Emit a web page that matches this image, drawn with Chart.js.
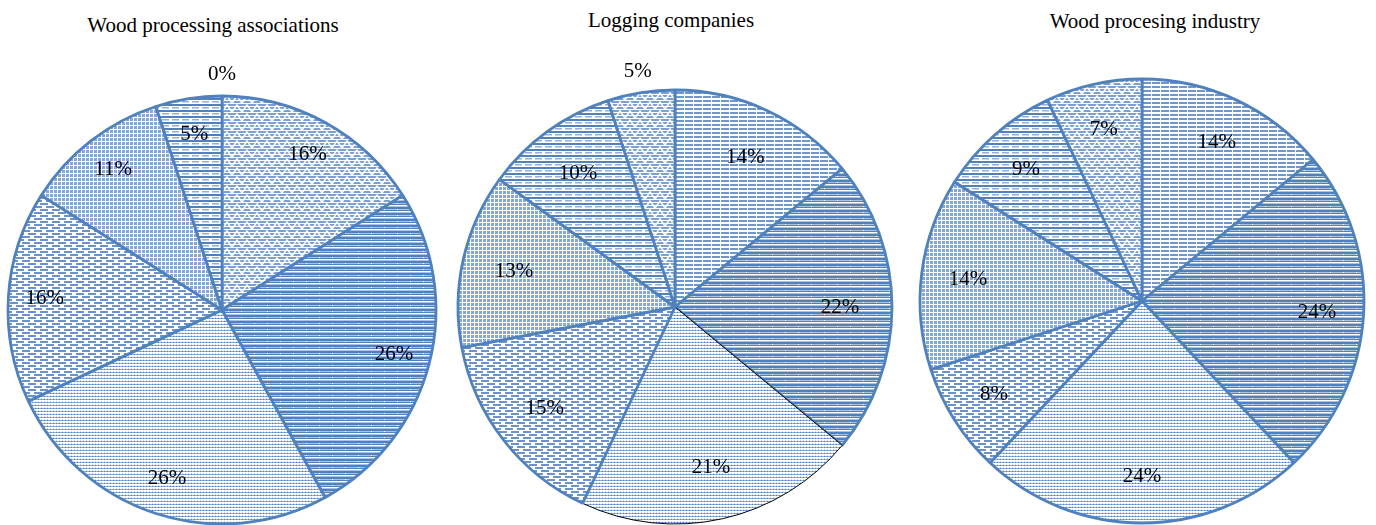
<!DOCTYPE html>
<html>
<head>
<meta charset="utf-8">
<script src="https://cdn.jsdelivr.net/npm/chart.js@4"></script>
<style>
  body { margin: 0; width: 1376px; height: 525px; overflow: hidden; background: #fff; position: relative; }
  .title { position: absolute; font: 21px "Liberation Serif", "Times New Roman", serif; line-height: 21px; color: #000; white-space: nowrap; transform: translateX(-50%); }
  .pie { position: absolute; width: 520px; height: 520px; }
</style>
</head>
<body>
<div class="title" style="left:213px; top:15px">Wood processing associations</div>
<div class="title" style="left:671px; top:10px">Logging companies</div>
<div class="title" style="left:1155px; top:11px">Wood procesing industry</div>
<div class="pie" style="left:-38px; top:50px"><canvas id="assoc" width="520" height="520"></canvas></div>
<div class="pie" style="left:415px; top:47px"><canvas id="logging" width="520" height="520"></canvas></div>
<div class="pie" style="left:882px; top:41px"><canvas id="industry" width="520" height="520"></canvas></div>
<script>
// shares in %, clockwise from 12 o'clock
const slices = ['s1', 's2', 's3', 's4', 's5', 's6', 's7']
const assocShares = [0, 16, 26, 26, 16, 11, 5]
const loggingShares = [14, 22, 21, 15, 13, 10, 5]
const industryShares = [14, 24, 24, 8, 14, 9, 7]

const blue = '#4f81bd'

function tile(w, h, draw) {
    const c = document.createElement('canvas')
    c.width = w
    c.height = h
    const g = c.getContext('2d')
    g.fillStyle = '#fff'
    g.fillRect(0, 0, w, h)
    draw(g)
    return g.createPattern(c, 'repeat')
}

const patterns = {
    gridLight: tile(9, 4, g => {
        g.fillStyle = '#6f97cc'
        g.fillRect(0, 1, 8, 2)
    }),
    brick: tile(13, 6, g => {
        g.fillStyle = '#a9c1e2'
        g.fillRect(0, 0, 13, 6)
        g.fillStyle = blue
        g.fillRect(0, 1, 13, 2)
        g.fillRect(0, 4, 13, 1)
        g.fillStyle = '#fff'
        g.fillRect(6, 3, 1, 1)
        g.fillRect(0, 5, 13, 1)
    }),
    dots: tile(3, 3, g => {
        g.fillStyle = '#8fb0dc'
        g.fillRect(0, 1, 3, 1)
        g.fillStyle = blue
        g.fillRect(1, 1, 1, 1)
        g.fillStyle = '#c9d8ee'
        g.fillRect(1, 0, 1, 1)
    }),
    dashed: tile(12, 6, g => {
        g.fillStyle = '#6b93c9'
        g.fillRect(0, 0, 8, 2)
        g.fillRect(6, 3, 6, 2)
        g.fillRect(0, 3, 2, 2)
    }),
    grid: tile(4, 4, g => {
        g.fillStyle = '#86a8d6'
        g.fillRect(0, 0, 3, 3)
    }),
    wide: tile(10, 6, g => {
        g.fillStyle = blue
        g.fillRect(0, 0, 10, 2)
        g.fillStyle = '#8fb0dc'
        g.fillRect(0, 3, 7, 1.5)
    }),
    zigzag: tile(10, 9, g => {
        g.fillStyle = '#7a9fd0'
        g.fillRect(0, 0, 10, 2)
        g.fillRect(0, 3, 10, 2)
        g.fillRect(0, 6, 10, 2)
        g.strokeStyle = '#fff'
        g.lineWidth = 1.5
        g.beginPath()
        g.moveTo(0, 8)
        g.lineTo(5, 1)
        g.lineTo(10, 8)
        g.stroke()
    })
}

const pctLabels = {
    id: 'pctLabels',
    afterDatasetsDraw(chart, args, opts) {
        const ctx = chart.ctx
        const vals = chart.data.datasets[0].data
        ctx.save()
        ctx.font = '21px "Liberation Serif", "Times New Roman", serif'
        ctx.fillStyle = '#000'
        ctx.textAlign = 'center'
        ctx.textBaseline = 'middle'
        chart.getDatasetMeta(0).data.forEach((arc, i) => {
            const p = arc.getProps(['x', 'y', 'startAngle', 'endAngle', 'outerRadius'], true)
            const mid = (p.startAngle + p.endAngle) / 2
            const f = opts.outside.includes(i) ? 1.1 : opts.factor
            ctx.fillText(vals[i] + '%', p.x + Math.cos(mid) * p.outerRadius * f, p.y + Math.sin(mid) * p.outerRadius * f)
        })
        ctx.restore()
    }
}

function makePie(id, shares, fills, radius, factor, outside, borders) {
    new Chart(document.getElementById(id), {
        type: 'pie',
        data: {
            labels: slices,
            datasets: [{
                data: shares,
                backgroundColor: fills.map(n => patterns[n]),
                borderColor: borders ? borders.map(b => b ? '#000' : blue) : blue,
                borderWidth: borders ? borders.map(b => b ? 1 : 2.8) : 2.8,
                radius: radius
            }]
        },
        options: {
            responsive: false,
            animation: false,
            events: [],
            plugins: {
                legend: { display: false },
                tooltip: { enabled: false },
                pctLabels: { factor: factor, outside: outside }
            }
        },
        plugins: [pctLabels]
    })
}

makePie('assoc', assocShares,
    ['gridLight', 'zigzag', 'brick', 'dots', 'dashed', 'grid', 'wide'], 214, 0.83, [0])
makePie('logging', loggingShares,
    ['gridLight', 'brick', 'dots', 'dashed', 'grid', 'wide', 'zigzag'], 217, 0.76, [6],
    [false, false, true, false, false, false, false])
makePie('industry', industryShares,
    ['gridLight', 'brick', 'dots', 'dashed', 'grid', 'wide', 'zigzag'], 222, 0.79, [])
</script>
</body>
</html>
